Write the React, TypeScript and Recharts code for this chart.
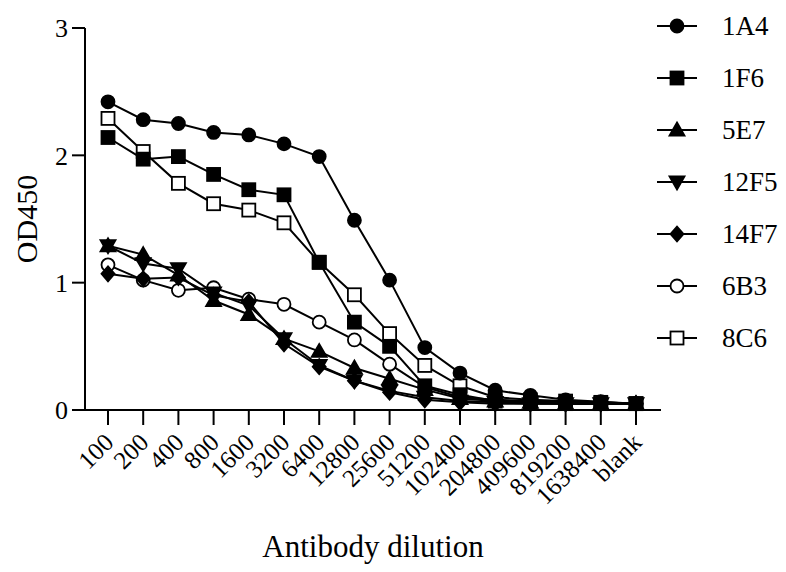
import { LineChart, Line, XAxis, YAxis } from "recharts";

const DILUTIONS = ["100", "200", "400", "800", "1600", "3200", "6400", "12800", "25600", "51200", "102400", "204800", "409600", "819200", "1638400", "blank"];

const OD_1A4 = [2.42, 2.28, 2.25, 2.18, 2.16, 2.09, 1.99, 1.49, 1.02, 0.49, 0.29, 0.155, 0.115, 0.08, 0.065, 0.05];
const OD_1F6 = [2.14, 1.97, 1.99, 1.85, 1.73, 1.69, 1.16, 0.69, 0.5, 0.19, 0.12, 0.07, 0.06, 0.05, 0.05, 0.05];
const OD_5E7 = [1.29, 1.22, 1.06, 0.86, 0.75, 0.56, 0.46, 0.33, 0.245, 0.16, 0.09, 0.07, 0.06, 0.05, 0.05, 0.05];
const OD_12F5 = [1.29, 1.15, 1.11, 0.92, 0.82, 0.56, 0.35, 0.23, 0.15, 0.1, 0.07, 0.06, 0.05, 0.05, 0.05, 0.05];
const OD_14F7 = [1.07, 1.03, 1.04, 0.9, 0.85, 0.52, 0.34, 0.23, 0.14, 0.08, 0.06, 0.05, 0.05, 0.05, 0.05, 0.05];
const OD_6B3 = [1.14, 1.02, 0.94, 0.96, 0.87, 0.83, 0.69, 0.55, 0.36, 0.18, 0.1, 0.08, 0.07, 0.06, 0.06, 0.05];
const OD_8C6 = [2.29, 2.03, 1.78, 1.62, 1.57, 1.47, 1.16, 0.905, 0.6, 0.35, 0.19, 0.1, 0.08, 0.07, 0.06, 0.05];

const Y_TICKS = [0, 1, 2, 3];

type Shape = "circle" | "square" | "triangle" | "triangleDown" | "diamond";

const SERIES: { name: string; values: number[]; shape: Shape; filled: boolean }[] = [
  { name: "1A4", values: OD_1A4, shape: "circle", filled: true },
  { name: "1F6", values: OD_1F6, shape: "square", filled: true },
  { name: "5E7", values: OD_5E7, shape: "triangle", filled: true },
  { name: "12F5", values: OD_12F5, shape: "triangleDown", filled: true },
  { name: "14F7", values: OD_14F7, shape: "diamond", filled: true },
  { name: "6B3", values: OD_6B3, shape: "circle", filled: false },
  { name: "8C6", values: OD_8C6, shape: "square", filled: false },
];

const data = DILUTIONS.map((d, i) => {
  const row: Record<string, string | number> = { dilution: d };
  SERIES.forEach((s) => (row[s.name] = s.values[i]));
  return row;
});

const FONT = "'Liberation Serif', 'Times New Roman', serif";

function Marker({ cx, cy, shape, filled }: { cx: number; cy: number; shape: Shape; filled: boolean }) {
  const fill = filled ? "#000" : "#fff";
  const common = { fill, stroke: "#000", strokeWidth: 1.8 };
  switch (shape) {
    case "circle":
      return <circle cx={cx} cy={cy} r={6.5} {...common} />;
    case "square":
      return <rect x={cx - 6.5} y={cy - 6.5} width={13} height={13} {...common} />;
    case "triangle":
      return <polygon points={`${cx},${cy - 7.5} ${cx + 7.5},${cy + 5.5} ${cx - 7.5},${cy + 5.5}`} {...common} />;
    case "triangleDown":
      return <polygon points={`${cx},${cy + 7.5} ${cx + 7.5},${cy - 5.5} ${cx - 7.5},${cy - 5.5}`} {...common} />;
    default:
      return <polygon points={`${cx},${cy - 7.5} ${cx + 6.5},${cy} ${cx},${cy + 7.5} ${cx - 6.5},${cy}`} {...common} />;
  }
}

function XTick({ x, y, payload }: any) {
  return (
    <g transform={`translate(${x + 7},${y + 17})`}>
      <text transform="rotate(-45)" textAnchor="end" style={{ fontSize: 25, fontFamily: FONT, fill: "#000" }}>
        {payload.value}
      </text>
    </g>
  );
}

export default function App() {
  return (
    <div style={{ position: "relative", width: 786, height: 572, background: "#fff" }}>
      <style>{`body{margin:0}`}</style>
      <LineChart width={786} height={572} data={data} margin={{ top: 28, right: 125, bottom: 0, left: 0 }}>
        <XAxis
          dataKey="dilution"
          interval={0}
          height={162}
          padding={{ left: 23, right: 25 }}
          tickSize={15}
          tickLine={{ stroke: "#000", strokeWidth: 2 }}
          axisLine={{ stroke: "#000", strokeWidth: 2 }}
          tick={<XTick />}
          label={{
            content: () => (
              <text x={373} y={557} textAnchor="middle" style={{ fontSize: 31, fontFamily: FONT, fill: "#000" }}>
                Antibody dilution
              </text>
            ),
          }}
        />
        <YAxis
          width={85}
          domain={[0, 3]}
          ticks={Y_TICKS}
          tickSize={13}
          tickMargin={4}
          tickLine={{ stroke: "#000", strokeWidth: 2 }}
          axisLine={{ stroke: "#000", strokeWidth: 2 }}
          tick={{ fontSize: 26, fontFamily: FONT, fill: "#000" }}
          label={{
            content: () => (
              <text
                x={37}
                y={219}
                transform="rotate(-90, 37, 219)"
                textAnchor="middle"
                style={{ fontSize: 30, fontFamily: FONT, fill: "#000" }}
              >
                OD450
              </text>
            ),
          }}
        />
        {[...SERIES].reverse().map((s) => (
          <Line
            key={s.name}
            dataKey={s.name}
            stroke="#000"
            strokeWidth={2}
            isAnimationActive={false}
            dot={(p: any) => <Marker key={`${s.name}-${p.index}`} cx={p.cx} cy={p.cy} shape={s.shape} filled={s.filled} />}
            activeDot={false}
          />
        ))}
      </LineChart>
      <svg width={130} height={370} style={{ position: "absolute", left: 656, top: 0 }}>
        {SERIES.map((s, i) => {
          const y = 26 + i * 52;
          return (
            <g key={s.name}>
              <line x1={1} x2={41} y1={y} y2={y} stroke="#000" strokeWidth={2} />
              <Marker cx={21} cy={y} shape={s.shape} filled={s.filled} />
              <text x={66} y={y + 9} style={{ fontSize: 27, fontFamily: FONT, fill: "#000" }}>
                {s.name}
              </text>
            </g>
          );
        })}
      </svg>
    </div>
  );
}
